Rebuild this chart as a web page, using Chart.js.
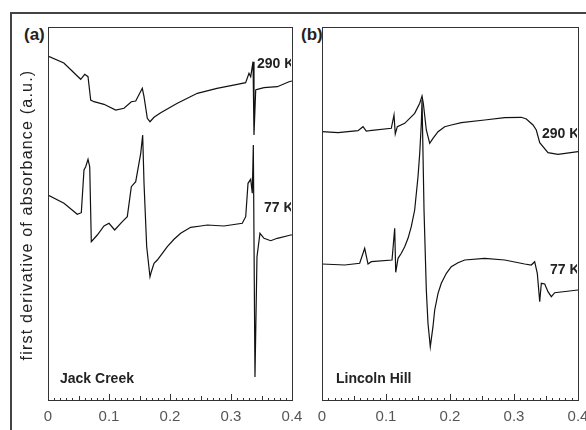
<!DOCTYPE html>
<html>
<head>
<meta charset="utf-8">
<script src="https://cdn.jsdelivr.net/npm/chart.js@4"></script>
<style>
  body { margin: 0; width: 586px; height: 430px; background: #fff; position: relative; overflow: hidden;
         font-family: "Liberation Sans", Arial, sans-serif; }
  canvas { position: absolute; left: 0; top: 0; }
  #frame { position: absolute; left: 10px; top: 12px; width: 700px; height: 600px;
           border-left: 2px solid #444; border-top: 2px solid #444; }
  .tag { position: absolute; top: 26px; font-weight: bold; font-size: 17px; line-height: 17px; color: #222; }
  .ytitle { position: absolute; left: -133px; top: 206px; width: 320px; height: 18px; line-height: 18px;
            font-size: 16px; letter-spacing: 1.2px; text-align: center; color: #222; transform: rotate(-90deg); }
  .clip { position: absolute; overflow: hidden; }
  .lbl { position: absolute; font-weight: bold; font-size: 14px; line-height: 14px; color: #222; white-space: nowrap; }
</style>
</head>
<body>
<div id="frame"></div>
<div class="tag" style="left:24px">(a)</div>
<div class="tag" style="left:301px">(b)</div>
<canvas id="chartA" width="586" height="430"></canvas>
<canvas id="chartB" width="586" height="430"></canvas>
<div class="ytitle">first derivative of absorbance (a.u.)</div>
<div class="clip" style="left:48px;top:27px;width:243px;height:372px">
  <div class="lbl" style="left:209px;top:29px">290 K</div>
  <div class="lbl" style="left:216px;top:173px">77 K</div>
  <div class="lbl" style="left:12px;top:344px">Jack Creek</div>
</div>
<div class="clip" style="left:322px;top:27px;width:255px;height:372px">
  <div class="lbl" style="left:220px;top:99px">290 K</div>
  <div class="lbl" style="left:228px;top:235px">77 K</div>
  <div class="lbl" style="left:14px;top:344px">Lincoln Hill</div>
</div>
<script>
// x axis ticks
const xTicks = [0, 0.1, 0.2, 0.3, 0.4];

// (a) Jack Creek, 290 K
const jack290X = [0, 0.026, 0.0536, 0.0602, 0.0656, 0.07, 0.0754, 0.0918, 0.111, 0.1246, 0.1366, 0.1438, 0.1546, 0.1574,
  0.1628, 0.1672, 0.1738, 0.1848, 0.212, 0.2448, 0.277, 0.3103, 0.324, 0.3295, 0.3323, 0.3361, 0.3377, 0.3405, 0.3431,
  0.3541, 0.3759, 0.3951, 0.4];
const jack290Y = [344, 337, 320.7, 325.7, 323.3, 300, 298.3, 295.7, 290, 291.7, 298.3, 299, 311.7, 303.3,
  281.7, 278.3, 282.7, 287.3, 296.7, 306.7, 311.7, 315.7, 317.3, 326.7, 323.3, 338.3, 265, 310, 310.7,
  312.3, 313.3, 318.3, 319];

// (a) Jack Creek, 77 K
const jack77X = [0, 0.0262, 0.048, 0.0546, 0.059, 0.0618, 0.0656, 0.0684, 0.071, 0.0808, 0.0918, 0.1, 0.1093, 0.1218,
  0.13, 0.1366, 0.1438, 0.152, 0.1552, 0.1574, 0.1618, 0.1672, 0.1694, 0.1738, 0.1792, 0.1874, 0.1956, 0.2066, 0.2175,
  0.2339, 0.2503, 0.2611, 0.2885, 0.3185,
  0.3241, 0.3279, 0.3323, 0.3349, 0.3366, 0.3393, 0.3426, 0.3475, 0.3541, 0.3651, 0.3759, 0.3979, 0.4];
const jack77Y = [205, 196.7, 185.7, 187.3, 230, 233.3, 240.7, 233.3, 158.3, 165, 174, 176.7, 170, 178.3,
  183.3, 213.3, 218.3, 246.7, 265, 216.7, 153.3, 123.3, 128.3, 136.7, 140, 146.7, 153.3, 160.7, 166.7,
  172.7, 174, 175, 174, 176.7,
  183.3, 216.7, 220.7, 206.7, 255, 23, 143.3, 166.7, 161.7, 159.3, 161.7, 165, 165];

// (b) Lincoln Hill, 290 K
const lincoln290X = [0, 0.025, 0.0563, 0.0641, 0.0692, 0.0745, 0.1083, 0.1125, 0.1145, 0.1177, 0.1292, 0.1448, 0.1527,
  0.1563, 0.1583, 0.163, 0.1683, 0.1734, 0.1813, 0.1917, 0.202, 0.2177, 0.2542, 0.2855, 0.3114, 0.3193, 0.3297, 0.3348,
  0.3402, 0.3531, 0.3688, 0.4];
const lincoln290Y = [268.3, 267.3, 269.3, 273.3, 269, 269.3, 271.7, 285, 266, 273.3, 276.7, 286.7, 296.7,
  304, 296.7, 270, 256.7, 261.7, 268.3, 273.3, 275, 277.3, 280, 282.3, 282.7, 281, 275, 270,
  257.3, 247.3, 245.7, 248.3];

// (b) Lincoln Hill, 77 K
const lincoln77X = [0, 0.0355, 0.0589, 0.0667, 0.0719, 0.077, 0.1094, 0.1136, 0.1152, 0.1188, 0.1239, 0.1292, 0.1344,
  0.1395, 0.1448, 0.15, 0.1527, 0.1552, 0.1563, 0.1594, 0.163, 0.1656, 0.1692, 0.1734, 0.1761, 0.1813, 0.1864, 0.1943,
  0.202, 0.2125, 0.223, 0.2542, 0.2855, 0.3167, 0.327, 0.3323, 0.3364,
  0.3402, 0.3427, 0.348, 0.3531, 0.3583, 0.3636, 0.4];
const lincoln77Y = [136, 135, 136.7, 151.7, 136, 138.3, 140, 171.7, 127.7, 141.7, 146.7, 153.3, 161.7,
  173.3, 190, 223.3, 246.7, 276.7, 300, 190, 110, 76.7, 53.3, 73.3, 90, 106.7, 116.7, 126.7,
  133.3, 137.3, 140, 141.7, 140, 136, 135, 138.3, 126.7,
  98.3, 116.7, 116, 108.3, 103.3, 107.3, 110];

const yMax = 373;

function pts(xs, ys) { return xs.map((x, i) => ({ x: x, y: ys[i] })); }

const boxPlugin = {
  id: 'box',
  beforeDraw(chart) {
    const a = chart.chartArea, ctx = chart.ctx;
    ctx.save();
    ctx.fillStyle = '#fff';
    ctx.fillRect(a.left, a.top, a.right - a.left, a.bottom - a.top);
    ctx.restore();
  },
  afterDraw(chart) {
    const a = chart.chartArea, ctx = chart.ctx, xs = chart.scales.x;
    ctx.save();
    ctx.strokeStyle = '#333';
    ctx.lineWidth = 1;
    ctx.strokeRect(Math.round(a.left) + 0.5, Math.round(a.top) + 0.5,
      Math.round(a.right - a.left), Math.round(a.bottom - a.top));
    // inward minor ticks every 0.01
    ctx.beginPath();
    for (let i = 0; i <= 40; i++) {
      const px = Math.round(xs.getPixelForValue(i / 100)) + 0.5;
      const len = i % 10 === 0 ? 6 : (i % 5 === 0 ? 4 : 2);
      ctx.moveTo(px, a.bottom);
      ctx.lineTo(px, a.bottom - len);
    }
    ctx.stroke();
    ctx.restore();
  }
};

function makeChart(id, left, right, series) {
  return new Chart(document.getElementById(id), {
    type: 'line',
    data: {
      datasets: series.map(s => ({
        data: pts(s[0], s[1]),
        borderColor: '#111',
        borderWidth: 1.2,
        pointRadius: 0,
        tension: 0,
        fill: false
      }))
    },
    options: {
      responsive: false,
      animation: false,
      layout: { padding: { left: left, right: 586 - right, top: 27, bottom: 0 } },
      plugins: { legend: { display: false }, tooltip: { enabled: false } },
      scales: {
        x: {
          type: 'linear', min: 0, max: 0.4,
          afterBuildTicks: s => { s.ticks = xTicks.map(v => ({ value: v })); },
          afterFit: s => { s.height = 30; s.paddingLeft = 0; s.paddingRight = 0; },
          grid: { display: false, drawTicks: false },
          border: { display: false },
          ticks: {
            padding: 8,
            color: '#555',
            font: { family: 'Liberation Sans', size: 15 },
            callback: v => String(+v.toFixed(1))
          }
        },
        y: { display: false, min: 0, max: yMax }
      }
    },
    plugins: [boxPlugin]
  });
}

makeChart('chartA', 48, 292, [[jack290X, jack290Y], [jack77X, jack77Y]]);
makeChart('chartB', 322, 578, [[lincoln290X, lincoln290Y], [lincoln77X, lincoln77Y]]);
</script>
</body>
</html>
